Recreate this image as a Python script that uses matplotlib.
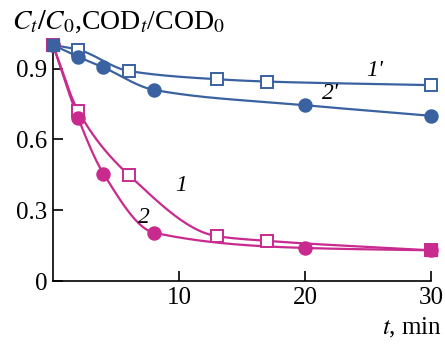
import numpy as np
import matplotlib
matplotlib.use('Agg')
import matplotlib.pyplot as plt

# time points (min)
t_sq = [0, 2, 6, 13, 17, 30]
t_ci = [0, 2, 4, 8, 20, 30]

# curve 1 / 1' (open squares), curve 2 / 2' (filled circles)
c1 = [1.0, 0.72, 0.45, 0.19, 0.17, 0.13]
c2 = [1.0, 0.69, 0.455, 0.205, 0.14, 0.13]
cod1 = [1.0, 0.98, 0.89, 0.855, 0.845, 0.83]
cod2 = [1.0, 0.95, 0.905, 0.81, 0.745, 0.70]

xticks = [10, 20, 30]
yticks = [0, 0.3, 0.6, 0.9]
ytick_labels = ['0', '0.3', '0.6', '0.9']

BLUE = '#3a62a0'
PINK = '#c92a8e'


def smooth(x, y, n=200):
    """Monotone cubic (Fritsch-Carlson) curve through the points, for drawing only."""
    x = np.asarray(x, float)
    y = np.asarray(y, float)
    h = np.diff(x)
    d = np.diff(y) / h
    m = np.zeros_like(y)
    m[0], m[-1] = d[0], d[-1]
    for i in range(1, len(x) - 1):
        if d[i - 1] * d[i] <= 0:
            m[i] = 0
        else:
            w1 = 2 * h[i] + h[i - 1]
            w2 = h[i] + 2 * h[i - 1]
            m[i] = (w1 + w2) / (w1 / d[i - 1] + w2 / d[i])
    xs = np.linspace(x[0], x[-1], n)
    idx = np.clip(np.searchsorted(x, xs) - 1, 0, len(x) - 2)
    tt = (xs - x[idx]) / h[idx]
    h00 = 2 * tt**3 - 3 * tt**2 + 1
    h10 = tt**3 - 2 * tt**2 + tt
    h01 = -2 * tt**3 + 3 * tt**2
    h11 = tt**3 - tt**2
    ys = h00 * y[idx] + h10 * h[idx] * m[idx] + h01 * y[idx + 1] + h11 * h[idx] * m[idx + 1]
    return xs, ys


plt.rcParams['font.family'] = 'Liberation Serif'
plt.rcParams['mathtext.fontset'] = 'stix'

fig = plt.figure(figsize=(4.45, 3.46), dpi=100)
ax = fig.add_axes([53 / 445, 1 - 281 / 346, (431 - 53) / 445, (281 - 45) / 346])

series = [
    (t_sq, cod1, BLUE, 's', 'white'),
    (t_ci, cod2, BLUE, 'o', BLUE),
    (t_sq, c1, PINK, 's', 'white'),
    (t_ci, c2, PINK, 'o', PINK),
]
for t, y, col, mk, fc in series:
    xs, ys = smooth(t, y)
    ax.plot(xs, ys, color=col, lw=1.6, clip_on=False, zorder=2)
    ax.plot(t, y, ls='none', marker=mk, ms=9,
            mfc=fc, mec=col, mew=1.4, clip_on=False, zorder=3)

# overlapping start / end points appear as filled squares
ax.plot([0], [1.0], ls='none', marker='s', ms=9, mfc=BLUE, mec=BLUE, clip_on=False, zorder=4)
ax.plot([30], [0.13], ls='none', marker='s', ms=9, mfc=PINK, mec=PINK, clip_on=False, zorder=4)

ax.set_xlim(0, 30)
ax.set_ylim(0, 1.0)
ax.set_xticks(xticks)
ax.set_yticks(yticks)
ax.set_yticklabels(ytick_labels)
ax.tick_params(direction='in', length=7, width=1.2, labelsize=18, pad=4)
for s in ('top', 'right'):
    ax.spines[s].set_visible(False)
for s in ('left', 'bottom'):
    ax.spines[s].set_linewidth(1.2)

fig.text(12 / 445, 1 - 22 / 346,
         r'$C_t/C_0$,COD$_t$/COD$_0$', fontsize=20, va='center', ha='left')
fig.text(442 / 445, 1 - 328 / 346, r'$t$, min', fontsize=18, va='center', ha='right')

lab_kw = dict(fontsize=17, style='italic', ha='center', va='center')
ax.text(25.5, 0.89, "1'", **lab_kw)
ax.text(22.0, 0.795, "2'", **lab_kw)
ax.text(10.2, 0.405, '1', **lab_kw)
ax.text(7.2, 0.27, '2', **lab_kw)

fig.savefig('out.png', dpi=100)
